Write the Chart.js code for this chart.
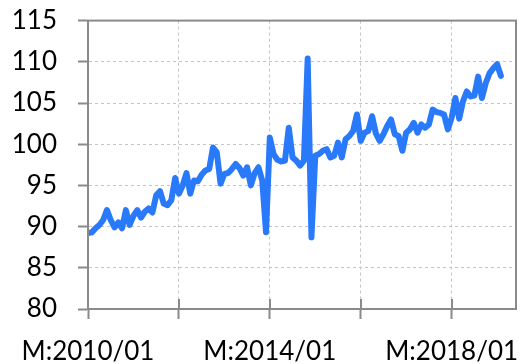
<!DOCTYPE html>
<html>
<head>
<meta charset="utf-8">
<script src="https://cdn.jsdelivr.net/npm/chart.js@4.4.1/dist/chart.umd.min.js"></script>
<style>
  html, body { margin: 0; padding: 0; background: #fff; overflow: hidden; }
  #wrap { width: 525px; height: 380px; margin-top: -16px; }
</style>
</head>
<body>
<div id="wrap"><canvas id="indexChart"></canvas></div>
<script>
        // Monthly index, M:2010/01 .. M:2019/02
        const indexValues = [
            89.2, 89.3, 89.8, 90.2, 90.8, 92.0, 90.8, 89.9, 90.5, 89.8, 92.0, 90.2,
            91.3, 92.0, 91.1, 91.8, 92.2, 91.7, 93.8, 94.3, 92.8, 92.6, 93.2, 95.9,
            94.0, 95.0, 96.5, 94.0, 95.6, 95.5, 96.3, 96.8, 97.0, 99.6, 99.0, 95.2,
            96.4, 96.5, 97.0, 97.6, 97.1, 96.2, 97.2, 95.0, 96.5, 97.2, 95.6, 89.3,
            100.8, 98.8, 98.1, 97.9, 98.0, 102.0, 98.4, 98.0, 97.4, 98.0, 110.4, 88.7,
            98.6, 98.8, 99.2, 99.4, 98.4, 98.6, 100.2, 98.4, 100.6, 101.0, 101.6, 103.6,
            100.4, 101.4, 101.6, 103.4, 101.3, 100.4, 101.2, 102.2, 103.0, 101.2, 101.0, 99.2,
            101.4, 101.8, 102.6, 101.4, 102.4, 102.0, 102.4, 104.2, 103.9, 103.8, 103.6, 101.8,
            103.2, 105.6, 103.1, 105.2, 106.4, 105.8, 105.9, 108.2, 105.6, 107.4, 108.6, 109.2,
            109.7, 108.3
        ];

        // x ticks every two years, labels every four
        const xTickMonths = [0, 24, 48, 72, 96];
        const xTickLabels = { 0: 'M:2010/01', 48: 'M:2014/01', 96: 'M:2018/01' };
        const yTicks = [80, 85, 90, 95, 100, 105, 110, 115];

        const axisGray = '#8a8a8a';
        const gridGray = '#c4c4c4';
        const fontSpec = { family: 'Lato', size: 26 };

        // closes the plot box and draws the inner half of the x tick marks
        const frame = {
            id: 'frame',
            afterDraw(chart) {
                const { ctx, chartArea: a, scales } = chart;
                ctx.save();
                ctx.strokeStyle = axisGray;
                ctx.lineWidth = 2;
                ctx.strokeRect(a.left, a.top, a.right - a.left, a.bottom - a.top);
                ctx.beginPath();
                xTickMonths.forEach(m => {
                    const px = Math.round(scales.x.getPixelForValue(m));
                    ctx.moveTo(px, a.bottom);
                    ctx.lineTo(px, a.bottom - 10);
                });
                ctx.stroke();
                ctx.restore();
            }
        };

        const ctx = document.getElementById('indexChart').getContext('2d');

        new Chart(ctx, {
            type: 'line',
            data: {
                datasets: [{
                    data: indexValues.map((v, i) => ({ x: i, y: v })),
                    borderColor: '#2979fb',
                    borderWidth: 6,
                    borderCapStyle: 'round',
                    borderJoinStyle: 'round',
                    pointRadius: 0,
                    tension: 0,
                    fill: false
                }]
            },
            options: {
                responsive: true,
                maintainAspectRatio: false,
                animation: false,
                layout: { padding: { top: 19, right: 9, left: 0, bottom: 0 } },
                plugins: {
                    legend: { display: false },
                    tooltip: { enabled: false }
                },
                scales: {
                    x: {
                        type: 'linear',
                        min: 0,
                        max: 113,
                        afterBuildTicks: scale => {
                            scale.ticks = xTickMonths.map(v => ({ value: v }));
                        },
                        afterFit: scale => {
                            scale.height = 55;
                            scale.paddingLeft = 0;
                            scale.paddingRight = 0;
                        },
                        ticks: {
                            autoSkip: false,
                            maxRotation: 0,
                            padding: 17,
                            color: '#000',
                            font: fontSpec,
                            callback: v => xTickLabels[v] || ''
                        },
                        grid: {
                            color: gridGray,
                            tickColor: axisGray,
                            tickLength: 10,
                            tickWidth: 2
                        },
                        border: { color: axisGray, width: 2, dash: [3, 3] }
                    },
                    y: {
                        min: 80,
                        max: 115,
                        afterBuildTicks: scale => {
                            scale.ticks = yTicks.map(v => ({ value: v }));
                        },
                        afterFit: scale => { scale.width = 88; },
                        ticks: {
                            padding: 21,
                            color: '#000',
                            font: fontSpec
                        },
                        grid: {
                            color: gridGray,
                            tickColor: axisGray,
                            tickLength: 10,
                            tickWidth: 2
                        },
                        border: { color: axisGray, width: 2, dash: [3, 3] }
                    }
                }
            },
            plugins: [frame]
        });
</script>
</body>
</html>
